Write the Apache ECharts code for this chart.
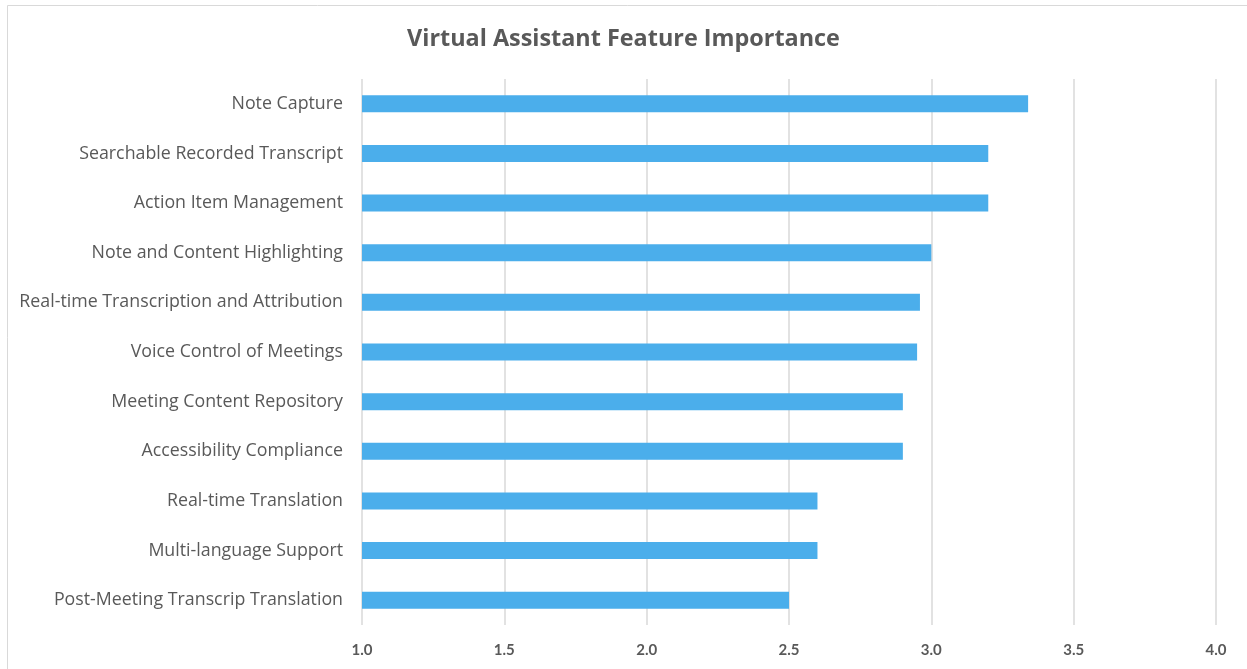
<!DOCTYPE html>
<html>
<head>
<meta charset="utf-8">
<script src="https://cdn.jsdelivr.net/npm/echarts@6/dist/echarts.min.js"></script>
<style>
  html, body { margin: 0; padding: 0; background: #fff; }
  #bar-1 { width: 1247px; height: 669px; }
</style>
</head>
<body>
<div id="bar-1"></div>
<script>
// features, top to bottom as in the picture
let features = [
    'Note Capture',
    'Searchable Recorded Transcript',
    'Action Item Management',
    'Note and Content Highlighting',
    'Real-time Transcription and Attribution',
    'Voice Control of Meetings',
    'Meeting Content Repository',
    'Accessibility Compliance',
    'Real-time Translation',
    'Multi-language Support',
    'Post-Meeting Transcrip Translation'
];
let importance = [3.34, 3.2, 3.2, 3.0, 2.96, 2.95, 2.9, 2.9, 2.6, 2.6, 2.5];
let axisMin = 1.0;
let axisMax = 4.0;
let axisStep = 0.5;

let BarContainer = document.getElementById('bar-1');
let myChart = echarts.init(BarContainer);

let option = {
    backgroundColor: '#ffffff',
    title: {
        text: 'Virtual Assistant Feature Importance',
        left: 'center',
        top: 23,
        textStyle: {
            fontFamily: 'Open Sans',
            fontSize: 23.4,
            fontWeight: 'bold',
            color: '#595959'
        }
    },
    graphic: [
        {
            // thin chart border, like the original frame
            type: 'rect',
            shape: { x: 7.5, y: 5.5, width: 1260, height: 700 },
            style: { fill: 'none', stroke: '#d9d9d9', lineWidth: 1 },
            silent: true
        }
    ],
    grid: {
        left: 362,
        right: 31,
        top: 79,
        bottom: 44,
        containLabel: false
    },
    xAxis: {
        type: 'value',
        min: axisMin,
        max: axisMax,
        interval: axisStep,
        axisLine: { show: false },
        axisTick: { show: false },
        axisLabel: {
            margin: 18,
            fontFamily: 'Lato',
            fontSize: 15,
            fontWeight: 'bold',
            color: '#595959',
            formatter: function (v) { return v.toFixed(1); }
        },
        splitLine: {
            show: true,
            lineStyle: { color: '#d9d9d9', width: 1.5 }
        }
    },
    yAxis: {
        type: 'category',
        data: features,
        inverse: true,
        axisLine: { show: false },
        axisTick: { show: false },
        axisLabel: {
            margin: 19,
            fontFamily: 'Open Sans',
            fontSize: 17.8,
            color: '#595959'
        }
    },
    series: [
        {
            name: 'Importance',
            type: 'bar',
            data: importance,
            barWidth: 17,
            itemStyle: {
                color: '#4baeeb'
            },
            silent: true
        }
    ]
};

myChart.setOption(option);
</script>
</body>
</html>
